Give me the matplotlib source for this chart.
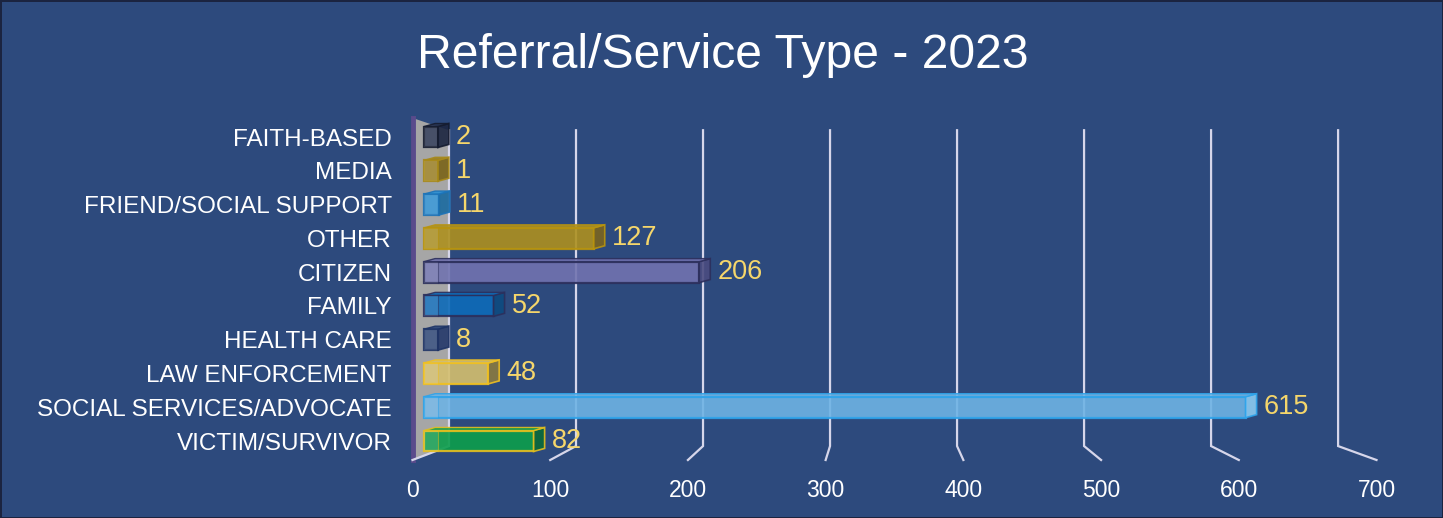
import numpy as np
import matplotlib
matplotlib.use("Agg")
import matplotlib.pyplot as plt
from matplotlib.patches import Polygon

plt.rcParams['font.family'] = ['Liberation Sans', 'DejaVu Sans']

# data, bottom to top
categories = ['VICTIM/SURVIVOR', 'SOCIAL SERVICES/ADVOCATE', 'LAW ENFORCEMENT',
              'HEALTH CARE', 'FAMILY', 'CITIZEN', 'OTHER',
              'FRIEND/SOCIAL SUPPORT', 'MEDIA', 'FAITH-BASED']
values = [82, 615, 48, 8, 52, 206, 127, 11, 1, 2]
xticks = [0, 100, 200, 300, 400, 500, 600, 700]

fills = ['#0c9e4c', '#6eb3e4', '#d4bf6e', '#2c4577', '#0d6bb8',
         '#7173b0', '#ad901f', '#2a8fd4', '#9d8020', '#27324f']
edges = ['#e6bf1e', '#2ea3ea', '#f0c020', '#1f3466', '#2c2f5c',
         '#2c2f5c', '#b8940e', '#1c73b8', '#a88a1a', '#151c30']
sides = ['#0a6a3a', '#8ccaf0', '#8a7a40', '#24386a', '#0d4a80',
         '#4a4c80', '#7a6420', '#1a6aa0', '#7a6418', '#1c2540']

bg = '#2d4a7d'
fig = plt.figure(figsize=(14.43, 5.18), dpi=100)
fig.patch.set_facecolor(bg)
fig.patch.set_edgecolor('#1b2440')
fig.patch.set_linewidth(2)

ax = fig.add_axes([412.5 / 1443, 58 / 518, 964 / 1443, 342 / 518])
ax.set_facecolor('none')
ax.set_xlim(0, 700)
ax.set_ylim(-0.5625, 9.5625)
for s in ax.spines.values():
    s.set_visible(False)

# perspective helpers (back wall is slightly compressed)
back_x0, back_k = 26.5, 1.27 / 1.377
back_top, back_bot, floor = 9.2, -0.15, -0.5625

# back wall
wall = Polygon([(0, 9.5625), (back_x0, back_top), (back_x0, back_bot), (0, floor)],
               closed=True, facecolor='#a6a6a6', edgecolor='none', zorder=0.5, clip_on=False)
ax.add_patch(wall)
ax.plot([0, 0], [floor, 9.5625], color='#5a4b8c', lw=3.5, zorder=0.6, clip_on=False)

# gridlines bent onto the floor
for v in xticks:
    bx = back_x0 + back_k * v
    ax.plot([bx, bx, v], [back_top, back_bot, floor], color='#d6d6ea', lw=1.6,
            zorder=1, clip_on=False, solid_joinstyle='miter')

# bars
y = np.arange(len(categories))
x0, k, cap, d, dy, h = 8.4, 0.97, 10, 8, 0.09, 0.62
widths = np.maximum(np.array(values) * k, cap)
ax.barh(y, widths, left=x0, height=h, color=fills, edgecolor=edges, linewidth=1.6,
        alpha=0.9, zorder=3)
ax.barh(y, cap, left=x0, height=h, color='white', alpha=0.1, zorder=3.1)
for i in range(len(values)):
    xe = x0 + widths[i]
    yt, yb = y[i] + h / 2, y[i] - h / 2
    side = Polygon([(xe, yb), (xe, yt), (xe + d, yt + dy), (xe + d, yb + dy)], closed=True,
                   facecolor=sides[i], edgecolor=edges[i], lw=1.2, alpha=0.9, zorder=3.2)
    top = Polygon([(x0, yt), (x0 + d, yt + dy), (xe + d, yt + dy), (xe, yt)], closed=True,
                  facecolor=fills[i], edgecolor=edges[i], lw=1.0, alpha=0.9, zorder=3.2)
    ax.add_patch(side)
    ax.add_patch(top)
    ax.plot([x0 + cap, x0 + cap], [yb, yt], color=edges[i], lw=0.8, alpha=0.5, zorder=3.3)
    ax.annotate(str(values[i]), (xe + d, y[i]), xytext=(5, 0), textcoords='offset points',
                ha='left', va='center', color='#f5d66b', fontsize=19.5, zorder=4)

ax.set_yticks(y)
ax.set_yticklabels(categories)
ax.set_xticks(xticks)
ax.tick_params(axis='y', length=0, pad=15, labelcolor='white', labelsize=17.5)
ax.tick_params(axis='x', length=0, pad=14, labelcolor='white', labelsize=16.5)

fig.text(723 / 1443, 1 - 55 / 518, 'Referral/Service Type - 2023', ha='center', va='center',
         color='white', fontsize=34.7)

fig.savefig('out.png', dpi=100, facecolor=fig.get_facecolor(), edgecolor=fig.get_edgecolor())
